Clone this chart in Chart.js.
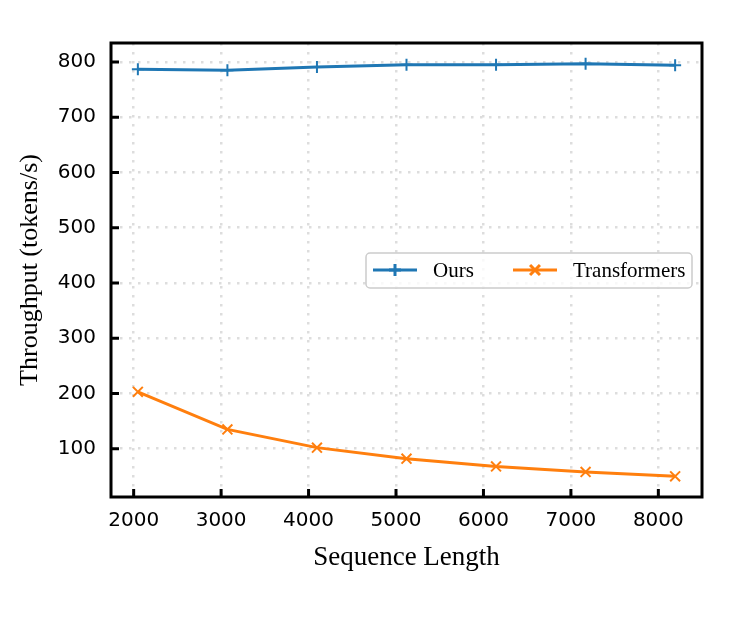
<!DOCTYPE html>
<html>
<head>
<meta charset="utf-8">
<script src="https://cdn.jsdelivr.net/npm/chart.js@4.4.1/dist/chart.umd.min.js"></script>
<style>
  html, body { margin: 0; padding: 0; background: #fff; }
  canvas { display: block; }
</style>
</head>
<body>
<canvas id="myChart" width="747" height="623"></canvas>
<script>
// data
const seqLengths = [2048, 3072, 4096, 5120, 6144, 7168, 8192];
const oursThroughput = [787, 785, 791, 795, 795, 797, 794];
const transformersThroughput = [203, 135, 102, 82, 68, 58, 50];

const xTickValues = [2000, 3000, 4000, 5000, 6000, 7000, 8000];
const yTickValues = [100, 200, 300, 400, 500, 600, 700, 800];

const seriesNames = ["Ours", "Transformers"];
const seriesColors = ["#1f77b4", "#ff7f0e"];

// matplotlib style 5% margins
function paddedRange(values) {
  const lo = Math.min(...values);
  const hi = Math.max(...values);
  const pad = (hi - lo) * 0.05;
  return [lo - pad, hi + pad];
}
const xRange = paddedRange(seqLengths);
const yRange = paddedRange(oursThroughput.concat(transformersThroughput));

const ctx = document.getElementById("myChart").getContext("2d");

// frame, inward ticks and the legend box inside the plot
const framePlugin = {
  id: "frame",
  afterDraw(chart) {
    const c = chart.ctx;
    const a = chart.chartArea;
    const xs = chart.scales.x;
    const ys = chart.scales.y;
    c.save();
    c.strokeStyle = "#000";
    c.lineWidth = 3;
    c.setLineDash([]);
    c.beginPath();
    xTickValues.forEach(v => {
      const px = xs.getPixelForValue(v);
      c.moveTo(px, a.bottom);
      c.lineTo(px, a.bottom - 8);
    });
    yTickValues.forEach(v => {
      const py = ys.getPixelForValue(v);
      c.moveTo(a.left, py);
      c.lineTo(a.left + 8, py);
    });
    c.stroke();
    c.strokeRect(a.left, a.top, a.right - a.left, a.bottom - a.top);

    // legend
    const bx = 366, by = 253, bw = 326, bh = 35, r = 4;
    c.lineWidth = 1.5;
    c.strokeStyle = "#cccccc";
    c.fillStyle = "rgba(255,255,255,0.8)";
    c.beginPath();
    c.roundRect(bx, by, bw, bh, r);
    c.fill();
    c.stroke();

    const rowY = 270;
    const samples = [[373, 433], [513, 573]];
    chart.data.datasets.forEach((ds, i) => {
      const [sx, tx] = samples[i];
      c.strokeStyle = ds.borderColor;
      c.lineWidth = ds.borderWidth;
      c.beginPath();
      c.moveTo(sx, rowY);
      c.lineTo(sx + 44, rowY);
      c.stroke();
      Chart.helpers.drawPoint(c, {
        pointStyle: ds.pointStyle,
        radius: ds.pointRadius,
        borderWidth: ds.pointBorderWidth
      }, sx + 22, rowY);
      c.fillStyle = "#000";
      c.font = "21px 'Liberation Serif'";
      c.textBaseline = "middle";
      c.textAlign = "left";
      c.fillText(ds.label, tx, rowY + 1);
    });
    c.restore();
  }
};

const throughputChart = new Chart(ctx, {
  type: "line",
  data: {
    datasets: [
      {
        label: seriesNames[0],
        data: seqLengths.map((x, i) => ({ x: x, y: oursThroughput[i] })),
        borderColor: seriesColors[0],
        backgroundColor: seriesColors[0],
        borderWidth: 3,
        pointStyle: "cross",
        pointRadius: 6,
        pointBorderWidth: 2,
        pointBorderColor: seriesColors[0],
        tension: 0,
      },
      {
        label: seriesNames[1],
        data: seqLengths.map((x, i) => ({ x: x, y: transformersThroughput[i] })),
        borderColor: seriesColors[1],
        backgroundColor: seriesColors[1],
        borderWidth: 3,
        pointStyle: "crossRot",
        pointRadius: 7,
        pointBorderWidth: 2,
        pointBorderColor: seriesColors[1],
        tension: 0,
      },
    ],
  },
  options: {
    responsive: false,
    animation: false,
    layout: { padding: { left: 0, top: 43, right: 45, bottom: 0 } },
    plugins: {
      legend: { display: false },
      tooltip: { enabled: false },
    },
    scales: {
      x: {
        type: "linear",
        min: xRange[0],
        max: xRange[1],
        afterBuildTicks: s => { s.ticks = xTickValues.map(v => ({ value: v })); },
        afterFit: s => { s.height = 126; },
        grid: { color: "#dddddd", lineWidth: 2.5, drawTicks: false },
        border: { display: false, dash: [2.5, 6.5] },
        ticks: {
          color: "#000",
          padding: 12,
          maxRotation: 0,
          autoSkip: false,
          font: { family: "DejaVu Sans", size: 20 },
          callback: v => String(v),
        },
        title: {
          display: true,
          text: "Sequence Length",
          color: "#000",
          font: { family: "Liberation Serif", size: 27 },
          padding: { top: 0, bottom: 49 },
        },
      },
      y: {
        min: yRange[0],
        max: yRange[1],
        afterBuildTicks: s => { s.ticks = yTickValues.map(v => ({ value: v })); },
        afterFit: s => { s.width = 111; },
        grid: { color: "#dddddd", lineWidth: 2.5, drawTicks: false },
        border: { display: false, dash: [2.5, 6.5] },
        ticks: {
          color: "#000",
          padding: 15,
          font: { family: "DejaVu Sans", size: 20 },
          callback: v => String(v),
        },
        title: {
          display: true,
          text: "Throughput (tokens/s)",
          color: "#000",
          font: { family: "Liberation Serif", size: 26 },
          padding: { top: 15, bottom: 0 },
        },
      },
    },
  },
  plugins: [framePlugin],
});
</script>
</body>
</html>
